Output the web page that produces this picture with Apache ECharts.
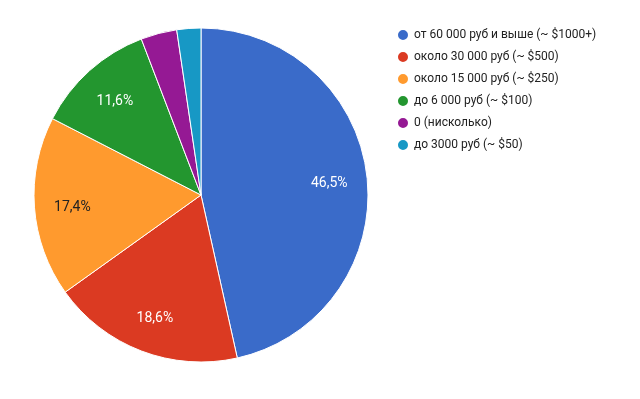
<!DOCTYPE html>
<html>
<head>
<meta charset="utf-8">
<script src="https://cdn.jsdelivr.net/npm/echarts@6/dist/echarts.min.js"></script>
<style>
    html, body { margin: 0; padding: 0; background: #fff; }
    #chart { width: 640px; height: 399px; }
</style>
</head>
<body>
<div id="chart"></div>
<script>
// answers count (86 people)
var categories = [
    'от 60 000 руб и выше (~ $1000+)',
    'около 30 000 руб (~ $500)',
    'около 15 000 руб (~ $250)',
    'до 6 000 руб (~ $100)',
    '0 (нисколько)',
    'до 3000 руб (~ $50)'
];
var counts = [40, 16, 15, 10, 3, 2];
var colors = ['#3a6bc9', '#db3a22', '#ff9a2e', '#23962f', '#951994', '#1798c5'];
var labelColors = ['#fff', '#fff', '#222', '#fff', '#fff', '#fff'];

var chart = echarts.init(document.getElementById('chart'));

var pieData = categories.map(function (name, i) {
    return { name: name, value: counts[i], itemStyle: { color: colors[i] } };
});
var labelData = categories.map(function (name, i) {
    return { name: name, value: counts[i], label: { color: labelColors[i] } };
});

var option = {
    animation: false,
    legend: {
        orient: 'vertical',
        left: 391,
        top: 23,
        icon: 'circle',
        itemWidth: 12,
        itemHeight: 12,
        itemGap: 8,
        textStyle: {
            fontFamily: 'Roboto',
            fontSize: 12,
            lineHeight: 14,
            color: '#222'
        },
        data: categories
    },
    series: [
        {
            type: 'pie',
            center: [201, 195],
            radius: 167,
            startAngle: 90,
            label: { show: false },
            labelLine: { show: false },
            itemStyle: { borderColor: '#fff', borderWidth: 1 },
            emphasis: { disabled: true },
            data: pieData
        },
        {
            // labels only, sitting at ~3/4 of the radius (text sits a bit low like the original)
            type: 'pie',
            center: [201, 198],
            radius: [85, 167],
            startAngle: 90,
            silent: true,
            legendHoverLink: false,
            itemStyle: { color: 'rgba(0,0,0,0)' },
            label: {
                show: true,
                position: 'inner',
                fontFamily: 'Roboto',
                fontSize: 14,
                formatter: function (p) {
                    if (p.percent < 5) return '';
                    return p.percent.toFixed(1).replace('.', ',') + '%';
                }
            },
            labelLine: { show: false },
            emphasis: { disabled: true },
            data: labelData
        }
    ]
};
chart.setOption(option);
</script>
</body>
</html>
